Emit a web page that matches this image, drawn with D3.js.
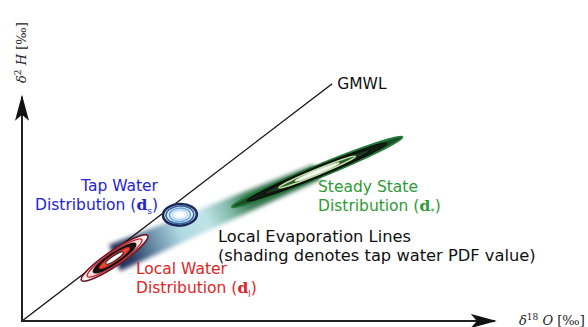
<!DOCTYPE html>
<html>
<head>
<meta charset="utf-8">
<script src="https://cdn.jsdelivr.net/npm/d3@7"></script>
<style>
  html, body { margin: 0; padding: 0; background: #fff; }
  svg { display: block; }
  .lbl { font-family: "DejaVu Sans", sans-serif; font-size: 15.5px; }
  .ax { font-family: "DejaVu Serif", "Liberation Serif", serif; font-size: 13px; fill: #222; }
</style>
</head>
<body>
<div id="chart"></div>
<script>
// schematic, in arbitrary per-mil units (same scale on both axes)
const X_MAX = 10.06;
const Y_MAX = 4.77;
const gmwlEnd = [6.6, 5.05];

// distributions: local water, tap water, steady state
const distNames = ["local", "tap", "steady"];
const centerX = [1.97, 3.36, 6.28];
const centerY = [1.34, 2.26, 3.17];
const semiMajor = [0.85, 0.36, 1.96];
const semiMinor = [0.16, 0.23, 0.13];
const tiltDeg = [34, 3, 22.3];

// contour levels (fraction of outer ellipse) and colours per distribution
const ringLevels = [1, 0.82, 0.62, 0.45, 0.26];
const ringStroke = {
  local: ["#6e1626", "#c42a2e", "#111", "#d42a22", "#222"],
  tap: ["#1b2a58", "#3463a2", "#6aa5d8", "#a9d3f0", "#d8ecf8"],
  steady: ["#227a36", "#0d0d0d", "#111", "#bfe2a4", "#e6f3d8"],
};
const ringFill = {
  local: ["#f8eced", "#f5dcdc", "#2a0d0d", "#e34a3a", "#ffffff"],
  tap: ["#eef6fc", "#e2f0fa", "#eaf5fc", "#f3f9fd", "#ffffff"],
  steady: ["#1d4a26", "#0f1f12", "#1b3a1e", "#2e5a2c", "#f4f9ee"],
};
const ringWidth = {
  local: [1.6, 1.4, 2.4, 1.2, 1],
  tap: [2.6, 1.6, 1.4, 1.2, 1],
  steady: [2, 1.2, 1.2, 1.4, 0.8],
};

// evaporation band shading along the line (tap water pdf)
const bandStops = [0, 0.08, 0.2, 0.32, 0.45, 0.56, 0.66, 1];
const bandColors = ["#1e2a5a", "#2f4268", "#7095ad", "#b0d9e2", "#c0e4e8", "#86bcae", "#3f7f5c", "#1f5a3a"];
const bandHalfWidth = [0.3, 0.17];

const W = 588, H = 327;
const svg = d3.select("#chart").append("svg").attr("width", W).attr("height", H);

const x = d3.scaleLinear().domain([0, 10]).range([22, 492]);
const y = d3.scaleLinear().domain([0, 5]).range([321, 86]);
const px = (v) => x(v) - x(0); // pixel length for a data length

const defs = svg.append("defs");
defs.append("filter").attr("id", "soft").attr("x", "-20%").attr("y", "-50%").attr("width", "140%").attr("height", "200%")
  .append("feGaussianBlur").attr("stdDeviation", 2);

const gx1 = x(centerX[0]), gy1 = y(centerY[0]);
const gx2 = x(centerX[2]), gy2 = y(centerY[2]);
const grad = defs.append("linearGradient").attr("id", "band")
  .attr("gradientUnits", "userSpaceOnUse")
  .attr("x1", gx1).attr("y1", gy1).attr("x2", gx2).attr("y2", gy2);
grad.selectAll("stop").data(bandStops).join("stop")
  .attr("offset", (d) => d)
  .attr("stop-color", (d, i) => bandColors[i]);

// arrow markers
defs.append("marker").attr("id", "arr").attr("viewBox", "0 0 26 14")
  .attr("refX", 24).attr("refY", 7).attr("markerWidth", 26).attr("markerHeight", 14)
  .attr("markerUnits", "userSpaceOnUse").attr("orient", "auto")
  .append("path").attr("d", "M0,0 L26,7 L0,14 L6,7 Z").attr("fill", "#111");

// evaporation band
const ang = Math.atan2(gy2 - gy1, gx2 - gx1);
const nx = -Math.sin(ang), ny = Math.cos(ang);
const w0 = px(bandHalfWidth[0]), w1 = px(bandHalfWidth[1]);
const bandPts = [
  [gx1 + nx * w0, gy1 + ny * w0],
  [gx2 + nx * w1, gy2 + ny * w1],
  [gx2 - nx * w1, gy2 - ny * w1],
  [gx1 - nx * w0, gy1 - ny * w0],
];
svg.append("path")
  .attr("d", d3.line()(bandPts) + "Z")
  .attr("fill", "url(#band)")
  .attr("filter", "url(#soft)");

// GMWL
svg.append("line")
  .attr("x1", x(0)).attr("y1", y(0))
  .attr("x2", x(gmwlEnd[0])).attr("y2", y(gmwlEnd[1]))
  .attr("stroke", "#111").attr("stroke-width", 1.3);
svg.append("text").attr("class", "lbl")
  .attr("x", x(gmwlEnd[0]) + 5).attr("y", y(gmwlEnd[1]) + 5)
  .attr("fill", "#111").text("GMWL");

// distributions as nested contour ellipses
distNames.forEach((name, i) => {
  const g = svg.append("g")
    .attr("transform", `translate(${x(centerX[i])},${y(centerY[i])}) rotate(${-tiltDeg[i]})`);
  g.selectAll("ellipse").data(ringLevels).join("ellipse")
    .attr("rx", (f) => px(semiMajor[i]) * f)
    .attr("ry", (f) => px(semiMinor[i]) * Math.max(f, 0.3))
    .attr("fill", (f, k) => ringFill[name][k])
    .attr("stroke", (f, k) => ringStroke[name][k])
    .attr("stroke-width", (f, k) => ringWidth[name][k]);
});

// axes
svg.append("line")
  .attr("x1", x(0)).attr("y1", y(0)).attr("x2", x(X_MAX)).attr("y2", y(0))
  .attr("stroke", "#222").attr("stroke-width", 2).attr("marker-end", "url(#arr)");
svg.append("line")
  .attr("x1", x(0)).attr("y1", y(0) + 1).attr("x2", x(0)).attr("y2", y(Y_MAX))
  .attr("stroke", "#222").attr("stroke-width", 2).attr("marker-end", "url(#arr)");

// axis labels
const xl = svg.append("text").attr("class", "ax").attr("x", 519).attr("y", 325);
xl.append("tspan").attr("font-style", "italic").text("δ");
xl.append("tspan").attr("font-size", 9).attr("dy", -5).text("18");
xl.append("tspan").attr("font-style", "italic").attr("dy", 5).text(" O");
xl.append("tspan").text(" [‰]");

const yl = svg.append("text").attr("class", "ax")
  .attr("transform", "translate(26,83) rotate(-90)");
yl.append("tspan").attr("font-style", "italic").text("δ");
yl.append("tspan").attr("font-size", 9).attr("dy", -5).text("2");
yl.append("tspan").attr("font-style", "italic").attr("dy", 5).text(" H");
yl.append("tspan").text(" [‰]");

// annotations
function label(lines, color, sub, size) {
  lines.forEach(([tx, ty, txt], k) => {
    const t = svg.append("text").attr("class", "lbl").attr("x", tx).attr("y", ty).attr("fill", color);
    if (size) t.style("font-size", size + "px");
    if (k === lines.length - 1 && sub !== null) {
      t.append("tspan").text(txt + " (");
      t.append("tspan").attr("font-family", "DejaVu Serif, serif").attr("font-weight", "bold").text("d");
      t.append("tspan").attr("font-size", 9).attr("dy", 4).text(sub);
      t.append("tspan").attr("dy", -4).text(")");
    } else {
      t.text(txt);
    }
  });
}
label([[81, 191, "Tap Water"], [35, 210, "Distribution"]], "#2323d8", "s");
label([[136, 274, "Local Water"], [136, 293, "Distribution"]], "#e02424", "l");
label([[318, 192, "Steady State"], [318, 211, "Distribution"]], "#2e9a35", "*");
label([[218, 242, "Local Evaporation Lines"], [218, 261, "(shading denotes tap water PDF value)"]], "#111", null, 16.3);
</script>
</body>
</html>
